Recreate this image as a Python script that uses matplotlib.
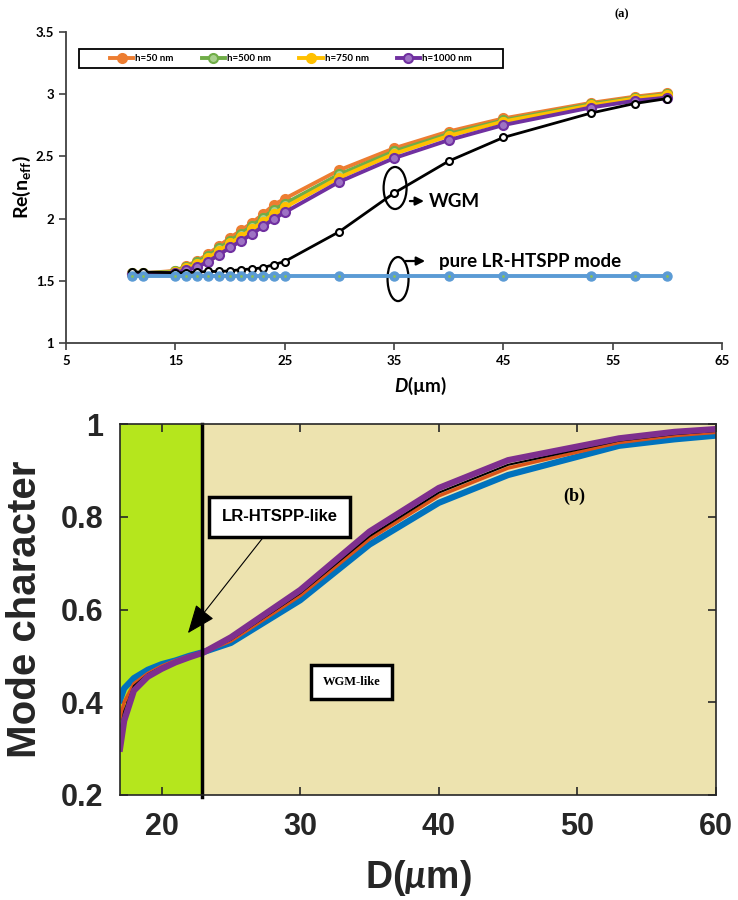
import matplotlib
matplotlib.use("Agg")
import matplotlib.pyplot as plt
from matplotlib.patches import Ellipse, Rectangle

plt.rcParams['mathtext.fontset'] = 'custom'
plt.rcParams['mathtext.rm'] = 'Lato:bold'
plt.rcParams['mathtext.bf'] = 'Lato:bold'
plt.rcParams['mathtext.it'] = 'Lato:italic:bold'

# ---- panel (a) data : Re(n_eff) vs D ----
D_a = [11, 12, 15, 16, 17, 18, 19, 20, 21, 22, 23, 24, 25, 30, 35, 40, 45, 53, 57, 60]
n_h50 = [1.56, 1.56, 1.58, 1.62, 1.66, 1.715, 1.78, 1.845, 1.905, 1.965, 2.035, 2.11, 2.16,
         2.39, 2.565, 2.70, 2.805, 2.93, 2.98, 3.01]
n_h500 = [1.56, 1.56, 1.575, 1.61, 1.65, 1.70, 1.76, 1.82, 1.88, 1.94, 2.005, 2.07, 2.12,
          2.355, 2.54, 2.68, 2.79, 2.92, 2.97, 3.00]
n_h750 = [1.555, 1.555, 1.57, 1.60, 1.635, 1.685, 1.74, 1.80, 1.855, 1.915, 1.975, 2.04, 2.09,
          2.33, 2.52, 2.665, 2.78, 2.91, 2.965, 2.995]
n_h1000 = [1.555, 1.555, 1.565, 1.586, 1.61, 1.655, 1.709, 1.768, 1.82, 1.875, 1.937, 1.996, 2.05,
           2.296, 2.486, 2.631, 2.752, 2.893, 2.947, 2.973]
n_wgm = [1.57, 1.57, 1.565, 1.565, 1.57, 1.575, 1.575, 1.58, 1.59, 1.595, 1.605, 1.63, 1.655,
         1.895, 2.205, 2.462, 2.652, 2.848, 2.925, 2.965]
n_lr = [1.535, 1.535, 1.535, 1.535, 1.535, 1.535, 1.535, 1.535, 1.535, 1.535, 1.535, 1.535, 1.535,
        1.535, 1.535, 1.535, 1.535, 1.535, 1.535, 1.535]
labels_a = ["h=50 nm", "h=500 nm", "h=750 nm", "h=1000 nm"]

# ---- panel (b) data : mode character vs D ----
D_b = [17, 17.3, 18, 19, 20, 21, 22, 23, 25, 30, 35, 40, 45, 53, 57, 60]
mc_blue = [0.405, 0.43, 0.452, 0.47, 0.482, 0.49, 0.50, 0.508, 0.528, 0.62, 0.74, 0.83, 0.89, 0.953, 0.967, 0.975]
mc_orange = [0.366, 0.40, 0.44, 0.462, 0.478, 0.49, 0.50, 0.508, 0.532, 0.63, 0.752, 0.845, 0.905, 0.96, 0.975, 0.982]
mc_black = [0.336, 0.38, 0.435, 0.46, 0.476, 0.489, 0.499, 0.508, 0.535, 0.635, 0.758, 0.852, 0.912, 0.964, 0.978, 0.985]
mc_purple = [0.30, 0.36, 0.425, 0.455, 0.472, 0.486, 0.497, 0.507, 0.54, 0.642, 0.768, 0.862, 0.922, 0.969, 0.983, 0.989]
D_boundary = 22.9

fig = plt.figure(figsize=(7.38, 9), dpi=100)

# ================= (a) =================
ax1 = fig.add_axes([66/738, 1-343/900, 656/738, 311/900])
cols = ["#ED7D31", "#70AD47", "#FFC000", "#7030A0"]
faces = ["#ED7D31", "#A9D18E", "#FFC000", "#9E72C4"]
for ys, c, fc, lab in zip([n_h50, n_h500, n_h750, n_h1000], cols, faces, labels_a):
    ax1.plot(D_a, ys, color=c, lw=2.8, marker='o', ms=6.5, mfc=fc, mec=c, mew=1.5, label=lab)
ax1.plot(D_a, n_wgm, color='black', lw=2.0, marker='o', ms=5, mfc='white', mec='black', mew=1.5)
ax1.plot(D_a, n_lr, color="#5B9BD5", lw=2.8, marker='o', ms=6.5, mfc="#5B9BD5", mec="#5B9BD5")
ax1.plot(D_a, n_lr, ls='none', marker='o', ms=2, mfc="#8CC152", mec="none")

ax1.set_xlim(5, 65)
ax1.set_ylim(1, 3.5)
ax1.set_xticks(range(5, 66, 10))
ax1.set_yticks([1, 1.5, 2, 2.5, 3, 3.5])
ax1.set_yticklabels(['1', '1.5', '2', '2.5', '3', '3.5'])
for s in ['top', 'right']:
    ax1.spines[s].set_visible(False)
for s in ['left', 'bottom']:
    ax1.spines[s].set_color('#404040')
    ax1.spines[s].set_linewidth(1.3)
ax1.tick_params(direction='out', length=5, width=1.2, color='#404040', labelsize=9.5)
for t in ax1.get_xticklabels() + ax1.get_yticklabels():
    t.set_fontfamily('Lato')
    t.set_fontweight('bold')
ax1.set_ylabel(r"Re($\mathrm{n_{eff}}$)", fontfamily='Lato', fontweight='bold', fontsize=14)
ax1.yaxis.set_label_coords(-0.05, 0.5)
fig.text(420/738, 1-386/900, r"$\mathit{D}$(µm)", fontfamily='Lato', fontweight='bold',
         fontsize=13.5, ha='center', va='center')

leg = ax1.legend(ncol=4, loc='center', bbox_to_anchor=(0.0198 + 0.323, 0.9145), frameon=False,
                 handlelength=2.4, prop={'family': 'Lato', 'weight': 'bold', 'size': 7},
                 handletextpad=0.2, columnspacing=2.9, borderaxespad=0)
ax1.add_patch(Rectangle((0.0198, 0.884), 0.646, 0.061, transform=ax1.transAxes, fill=False,
                        ec='black', lw=1.3, clip_on=False))

ax1.add_patch(Ellipse((35.1, 2.246), 2.1, 0.338, fill=False, ec='black', lw=1.6))
ax1.add_patch(Ellipse((35.37, 1.514), 1.92, 0.354, fill=False, ec='black', lw=1.6))
ax1.annotate("", xy=(38.0, 2.141), xytext=(36.2, 2.141),
             arrowprops=dict(arrowstyle='-|>,head_length=0.5,head_width=0.25', lw=1.6, color='black'))
ax1.annotate("", xy=(38.1, 1.659), xytext=(35.8, 1.659),
             arrowprops=dict(arrowstyle='-|>,head_length=0.5,head_width=0.25', lw=1.6, color='black'))
ax1.text(38.2, 2.141, "WGM", fontfamily='Lato', fontweight='bold', fontsize=13.5, va='center', ha='left')
ax1.text(39.1, 1.655, "pure LR-HTSPP mode", fontfamily='Lato', fontweight='bold', fontsize=13.5,
         va='center', ha='left')
fig.text(622/738, 1-14/900, "(a)", fontfamily='Liberation Serif', fontweight='bold', fontsize=9,
         ha='center', va='center')

# ================= (b) =================
ax2 = fig.add_axes([120/738, 1-795/900, 596/738, 371/900])
ax2.set_facecolor('#EDE3AF')
ax2.axvspan(17, D_boundary, color='#B5E61D', zorder=0)
ax2.plot(D_b, mc_blue, color='#0072BD', lw=4.5, solid_joinstyle='round')
ax2.plot(D_b, mc_orange, color='#D95319', lw=2.5)
ax2.plot(D_b, mc_black, color='black', lw=1.5)
ax2.plot(D_b, mc_purple, color='#7E2F8E', lw=4.5, solid_joinstyle='round')
ax2.axvline(D_boundary, color='black', lw=2.5, ymin=-0.005, clip_on=False)

ax2.set_xlim(17, 60)
ax2.set_ylim(0.2, 1)
ax2.set_xticks([20, 30, 40, 50, 60])
ax2.set_yticks([0.2, 0.4, 0.6, 0.8, 1])
ax2.set_yticklabels(['0.2', '0.4', '0.6', '0.8', '1'])
for s in ax2.spines.values():
    s.set_color('#262626')
    s.set_linewidth(1.2)
ax2.tick_params(direction='in', length=6, width=1.2, color='#262626', top=True, right=True,
                labelsize=22, labelcolor='#262626', pad=12)
for t in ax2.get_xticklabels() + ax2.get_yticklabels():
    t.set_fontfamily('Liberation Sans')
    t.set_fontweight('bold')
ax2.set_ylabel("Mode character", fontfamily='Liberation Sans', fontweight='bold', fontsize=29,
               color='#262626')
ax2.yaxis.set_label_coords(-0.128, 0.5)
ax2.set_xlabel(r"D($\mu$m)", fontfamily='Liberation Sans', fontweight='bold', fontsize=27,
               color='#262626')
ax2.xaxis.set_label_coords(0.5, -0.17)

ax2.annotate("LR-HTSPP-like", xy=(21.9, 0.549), xytext=(28.5, 0.80), ha='center', va='center',
             fontfamily='Liberation Sans', fontweight='bold', fontsize=12,
             bbox=dict(boxstyle='square,pad=0.75', fc='white', ec='black', lw=2.5),
             arrowprops=dict(arrowstyle='-|>,head_length=1.0,head_width=0.4', lw=0.8, color='black',
                             mutation_scale=18, shrinkA=0, shrinkB=0))
ax2.text(33.7, 0.444, "WGM-like", ha='center', va='center', fontfamily='Liberation Serif',
         fontweight='bold', fontsize=9,
         bbox=dict(boxstyle='square,pad=0.9', fc='white', ec='black', lw=2.5))
ax2.text(49.8, 0.843, "(b)", ha='center', va='center', fontfamily='Liberation Serif',
         fontweight='bold', fontsize=13)

fig.savefig("out.png", dpi=100)
